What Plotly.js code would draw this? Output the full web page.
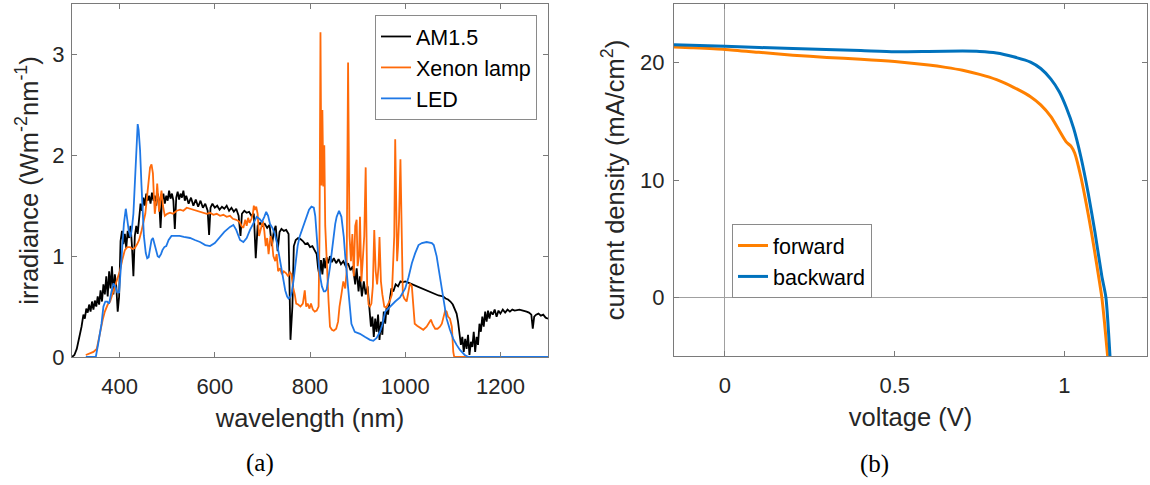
<!DOCTYPE html>
<html>
<head>
<meta charset="utf-8">
<script src="https://cdn.plot.ly/plotly-3.0.1.min.js"></script>
<style>html,body{margin:0;padding:0;background:#fff;}#chart{width:1150px;height:485px;}</style>
</head>
<body>
<div id="chart"></div>
<script>
// ---- (a) spectra ----
const am15Wavelength = [300,305,310,315,320,324,327,330,333,336,339,342,345,348,351,354,357,360,363,366,369,372,375,378,381,384,387,390,393,396,399,402,405,408,411,414,417,420,423,426,429,432,435,438,441,444,447,450,453,456,459,462,465,468,471,474,477,480,483,486,489,492,495,498,501,504,507,510,513,516,519,522,525,528,531,534,537,540,545,550,555,560,565,570,575,580,585,588,591,595,600,605,610,615,620,625,630,635,640,645,650,654,657,662,667,672,677,682,686,690,695,700,705,710,715,720,724,728,732,736,740,745,750,755,759,763,766,770,775,780,785,790,795,800,805,810,814,817,820,823,826,829,832,835,838,842,846,850,855,860,865,870,875,880,885,890,895,898,902,905,909,913,917,921,925,928,931,934,937,940,943,946,949,952,955,958,961,964,967,971,975,980,985,990,995,1000,1010,1020,1030,1040,1050,1060,1070,1080,1085,1090,1095,1100,1104,1108,1111,1114,1117,1120,1123,1126,1129,1132,1135,1138,1141,1144,1147,1150,1153,1156,1159,1162,1165,1168,1171,1174,1177,1180,1184,1188,1192,1196,1200,1205,1210,1215,1220,1225,1230,1240,1250,1255,1260,1265,1268,1271,1275,1280,1285,1290,1295,1300];
const am15Irradiance = [0,0.02,0.08,0.18,0.30,0.42,0.38,0.48,0.44,0.52,0.45,0.55,0.47,0.56,0.50,0.60,0.52,0.66,0.55,0.72,0.62,0.80,0.60,0.85,0.68,0.90,0.62,0.82,0.70,0.45,0.60,1.15,1.25,1.12,1.22,1.08,1.25,1.18,1.30,1.10,0.80,1.20,1.30,1.22,1.40,1.52,1.45,1.58,1.50,1.62,1.55,1.60,1.52,1.63,1.55,1.60,1.50,1.62,1.55,1.28,1.55,1.62,1.52,1.60,1.55,1.65,1.57,1.62,1.55,1.27,1.58,1.64,1.56,1.62,1.58,1.65,1.55,1.60,1.52,1.58,1.50,1.56,1.49,1.55,1.48,1.52,1.45,1.21,1.48,1.52,1.48,1.50,1.46,1.49,1.47,1.50,1.45,1.48,1.44,1.47,1.40,1.20,1.42,1.45,1.43,1.44,1.40,1.42,0.98,1.30,1.33,1.30,1.32,1.28,1.31,1.10,1.25,1.30,1.05,1.24,1.27,1.25,1.26,1.22,0.17,0.50,1.10,1.16,1.18,1.17,1.15,1.12,1.13,1.09,1.10,1.06,1.02,0.88,0.80,0.96,0.82,0.98,0.88,0.99,0.93,1.00,0.94,0.98,0.93,0.97,0.92,0.95,0.90,0.93,0.86,0.90,0.72,0.88,0.65,0.80,0.60,0.75,0.62,0.70,0.45,0.30,0.40,0.20,0.38,0.25,0.42,0.17,0.35,0.22,0.45,0.33,0.50,0.42,0.55,0.68,0.65,0.72,0.70,0.75,0.74,0.75,0.73,0.71,0.69,0.67,0.65,0.63,0.61,0.60,0.58,0.57,0.55,0.52,0.48,0.43,0.35,0.25,0.12,0.20,0.05,0.18,0.08,0.22,0.02,0.15,0.10,0.25,0.05,0.20,0.12,0.33,0.25,0.40,0.30,0.45,0.35,0.46,0.38,0.45,0.42,0.47,0.40,0.46,0.43,0.47,0.44,0.47,0.45,0.47,0.46,0.47,0.46,0.45,0.44,0.42,0.28,0.40,0.42,0.43,0.41,0.42,0.39,0.38];

const xenonWavelength = [329,335,345,352,356,360,365,369,375,380,385,390,395,401,406,411,416,422,427,432,437,441,446,450,454,457,461,464,467,470,472,474,477,479,481,483,486,488,491,495,500,506,512,520,527,534,541,548,555,562,570,577,583,590,597,604,611,618,625,632,638,645,652,656,660,664,667,670,673,677,680,682,684,687,690,693,697,701,704,707,710,713,717,720,723,727,730,733,737,741,745,750,754,758,761,764,768,771,775,780,785,789,792,795,799,802,806,810,814,818,820,822,824,826,828,830,832,834,836,839,842,846,850,855,859,862,866,870,874,877,880,883,886,889,892,895,898,900,903,905,908,911,914,917,920,923,926,929,932,935,938,941,944,946,949,952,956,960,964,968,972,975,977,979,981,983,985,987,990,992,995,998,1003,1007,1010,1014,1017,1020,1025,1031,1038,1045,1050,1054,1058,1063,1068,1073,1077,1081,1084,1087,1090,1094,1098,1101,1103,1130];
const xenonIrradiance = [0.02,0.03,0.05,0.08,0.18,0.27,0.38,0.45,0.52,0.55,0.63,0.70,0.78,0.86,0.97,1.06,1.09,1.09,1.07,1.08,1.12,1.16,1.25,1.35,1.42,1.56,1.75,1.88,1.91,1.82,1.60,1.42,1.55,1.72,1.58,1.44,1.58,1.65,1.50,1.40,1.42,1.43,1.42,1.45,1.46,1.45,1.48,1.47,1.46,1.45,1.44,1.43,1.42,1.43,1.41,1.42,1.40,1.41,1.39,1.40,1.37,1.36,1.34,1.30,1.28,1.36,1.30,1.38,1.33,1.37,1.42,1.50,1.46,1.49,1.42,1.20,1.28,1.35,1.25,1.10,1.18,1.02,1.20,1.15,1.00,0.95,1.02,0.85,0.88,0.82,0.85,0.83,0.80,0.84,0.82,0.70,0.62,0.53,0.52,0.50,0.53,0.66,0.50,0.53,0.48,0.53,0.47,0.45,0.46,0.50,1.20,3.22,1.70,2.45,1.69,2.10,1.30,1.05,0.75,0.55,0.30,0.27,0.26,0.28,0.35,0.50,0.62,0.75,0.68,0.85,2.92,1.20,0.95,1.22,0.80,1.30,1.36,0.90,1.00,1.39,0.75,0.95,1.20,1.88,0.73,0.52,0.50,0.53,0.70,1.26,0.85,0.72,0.90,1.19,0.75,0.62,0.50,0.49,0.52,0.56,0.62,0.96,1.20,2.16,1.30,0.95,1.10,1.35,1.96,1.20,0.62,0.58,0.55,0.65,0.73,0.70,0.55,0.33,0.31,0.29,0.27,0.30,0.34,0.37,0.32,0.28,0.28,0.30,0.33,0.40,0.46,0.45,0.40,0.38,0.30,0.05,0,0];

const ledWavelength = [329,350,355,359,362,366,370,374,378,383,387,391,395,399,403,406,409,413,416,419,423,426,429,432,434,436,438,440,443,446,448,451,455,458,461,464,467,470,473,476,480,483,487,490,494,498,503,509,517,526,535,548,558,569,580,590,600,611,620,632,639,645,653,660,667,674,681,688,694,699,704,708,712,716,721,726,731,737,742,748,752,755,759,762,766,770,774,778,783,788,793,798,803,808,811,814,817,819,822,825,829,832,835,839,842,846,849,853,856,861,866,871,874,877,882,887,894,905,915,926,933,940,947,952,958,968,979,989,1000,1007,1014,1021,1028,1035,1045,1056,1060,1066,1072,1077,1082,1087,1094,1101,1108,1115,1125,1133,1300];
const ledIrradiance = [0,0,0.13,0.25,0.33,0.50,0.55,0.55,0.53,0.65,0.73,0.70,0.64,0.64,0.93,1.15,1.32,1.47,1.38,1.26,1.19,1.28,1.42,1.75,1.98,2.20,2.31,2.25,2.05,1.70,1.46,1.20,1.03,0.98,0.99,1.08,1.16,1.18,1.13,1.06,1.00,0.99,1.02,1.06,1.09,1.10,1.16,1.20,1.20,1.20,1.19,1.18,1.16,1.14,1.11,1.10,1.13,1.19,1.24,1.29,1.31,1.26,1.16,1.14,1.18,1.26,1.33,1.39,1.37,1.34,1.39,1.44,1.40,1.32,1.28,1.22,1.12,0.95,0.80,0.66,0.60,0.58,0.60,0.65,0.78,0.95,1.10,1.19,1.26,1.33,1.40,1.46,1.49,1.48,1.40,1.19,1.00,0.89,0.78,0.70,0.65,0.65,0.67,0.78,0.89,1.05,1.19,1.32,1.39,1.45,1.39,1.19,1.00,0.83,0.53,0.33,0.25,0.23,0.20,0.17,0.16,0.19,0.25,0.32,0.45,0.50,0.55,0.59,0.68,0.79,0.93,1.03,1.11,1.13,1.14,1.13,1.11,1.00,0.83,0.66,0.51,0.38,0.27,0.18,0.12,0.07,0.02,0,0];

// ---- (b) J-V curves ----
const forwardVoltage = [-0.15,-0.1,0,0.1,0.2,0.3,0.4,0.5,0.6,0.65,0.7,0.75,0.8,0.85,0.9,0.93,0.96,0.985,1.005,1.02,1.03,1.048,1.064,1.08,1.096,1.11,1.118,1.127];
const forwardCurrent = [21.33,21.27,21.13,20.88,20.63,20.45,20.3,20.1,19.8,19.6,19.35,19.0,18.55,17.9,17.1,16.4,15.4,14.2,13.25,12.85,12.3,10.3,8.0,5.45,2.6,0.0,-2.2,-5.0];
const backwardVoltage = [-0.15,0,0.2,0.4,0.5,0.6,0.7,0.75,0.8,0.85,0.9,0.93,0.96,0.985,1.005,1.027,1.048,1.07,1.09,1.11,1.122,1.134];
const backwardCurrent = [21.53,21.39,21.2,21.03,20.94,20.96,20.99,20.96,20.83,20.5,20.05,19.5,18.6,17.5,16.2,14.4,12.0,8.85,5.5,1.8,0.0,-5.0];

const xTicksA = [400,600,800,1000,1200];
const yTicksA = [0,1,2,3];
const xTicksB = [0,0.5,1];
const yTicksB = [0,10,20];

const FONT = '"Liberation Sans", Arial, sans-serif';
const TXT = '#262626';

const traces = [
  {x: am15Wavelength, y: am15Irradiance, name: 'AM1.5', mode: 'lines', line: {color: '#000000', width: 1.8}, xaxis: 'x', yaxis: 'y', legend: 'legend'},
  {x: xenonWavelength, y: xenonIrradiance, name: 'Xenon lamp', mode: 'lines', line: {color: '#ff6a0a', width: 1.8}, xaxis: 'x', yaxis: 'y', legend: 'legend'},
  {x: ledWavelength, y: ledIrradiance, name: 'LED', mode: 'lines', line: {color: '#1f78e6', width: 1.8}, xaxis: 'x', yaxis: 'y', legend: 'legend'},
  {x: forwardVoltage, y: forwardCurrent, name: 'forward', mode: 'lines', line: {color: '#ff8000', width: 3, shape: 'spline', smoothing: 0.6}, xaxis: 'x2', yaxis: 'y2', legend: 'legend2'},
  {x: backwardVoltage, y: backwardCurrent, name: 'backward', mode: 'lines', line: {color: '#0072bd', width: 3, shape: 'spline', smoothing: 0.6}, xaxis: 'x2', yaxis: 'y2', legend: 'legend2'}
];

const axBase = {
  showgrid: false, zeroline: false, showline: true, mirror: 'ticks',
  linecolor: '#7a7a7a', linewidth: 1, ticks: 'inside', ticklen: 5, tickcolor: '#7a7a7a',
  tickfont: {family: FONT, size: 22, color: TXT}, tickmode: 'array'
};

const layout = {
  width: 1150, height: 485,
  margin: {l: 0, r: 0, t: 0, b: 0},
  paper_bgcolor: '#ffffff', plot_bgcolor: '#ffffff',
  showlegend: true,
  xaxis: Object.assign({}, axBase, {
    domain: [72/1150, 548/1150], range: [300, 1300], anchor: 'y',
    tickvals: xTicksA, ticktext: xTicksA.map(String), ticklabelstandoff: 10,
    title: {text: 'wavelength (nm)', font: {family: FONT, size: 25.5, color: TXT}, standoff: 10}
  }),
  yaxis: Object.assign({}, axBase, {
    domain: [128/485, 481/485], range: [0, 3.5], anchor: 'x',
    tickvals: yTicksA, ticktext: yTicksA.map(String), ticklabelstandoff: 2,
    title: {text: 'irradiance (Wm<sup>-2</sup>nm<sup>-1</sup>)', font: {family: FONT, size: 25.5, color: TXT}, standoff: 6}
  }),
  xaxis2: Object.assign({}, axBase, {
    domain: [674/1150, 1147/1150], range: [-0.15, 1.243], anchor: 'y2',
    tickvals: xTicksB, ticktext: ['0', '0.5', '1'], ticklabelstandoff: 10,
    zeroline: true, zerolinecolor: '#a0a0a0', zerolinewidth: 1,
    title: {text: 'voltage (V)', font: {family: FONT, size: 25.5, color: TXT}, standoff: 10}
  }),
  yaxis2: Object.assign({}, axBase, {
    domain: [129/485, 481/485], range: [-5, 25], anchor: 'x2',
    tickvals: yTicksB, ticktext: yTicksB.map(String), ticklabelstandoff: 4,
    zeroline: true, zerolinecolor: '#a0a0a0', zerolinewidth: 1,
    title: {text: 'current density (mA/cm<sup>2</sup>)', font: {family: FONT, size: 25.5, color: TXT}, standoff: 8}
  }),
  legend: {
    x: 537/1150, xanchor: 'right', y: 1 - 15/485, yanchor: 'top',
    bgcolor: '#ffffff', bordercolor: '#8a8a8a', borderwidth: 1,
    font: {family: FONT, size: 21.5, color: '#000'}, tracegroupgap: 0, itemwidth: 30
  },
  legend2: {
    x: 732/1150, xanchor: 'left', y: 1 - 224/485, yanchor: 'top',
    bgcolor: '#ffffff', bordercolor: '#8a8a8a', borderwidth: 1,
    font: {family: FONT, size: 21.5, color: '#000'}, tracegroupgap: 0, itemwidth: 30
  },
  annotations: [
    {text: '(a)', x: 260/1150, y: 1 - 463/485, xref: 'paper', yref: 'paper', showarrow: false, xanchor: 'center', yanchor: 'middle', font: {family: '"Liberation Serif", "Times New Roman", serif', size: 25, color: '#000'}},
    {text: '(b)', x: 874/1150, y: 1 - 464/485, xref: 'paper', yref: 'paper', showarrow: false, xanchor: 'center', yanchor: 'middle', font: {family: '"Liberation Serif", "Times New Roman", serif', size: 25, color: '#000'}}
  ]
};

Plotly.newPlot('chart', traces, layout, {displayModeBar: false, staticPlot: true});
</script>
</body>
</html>
